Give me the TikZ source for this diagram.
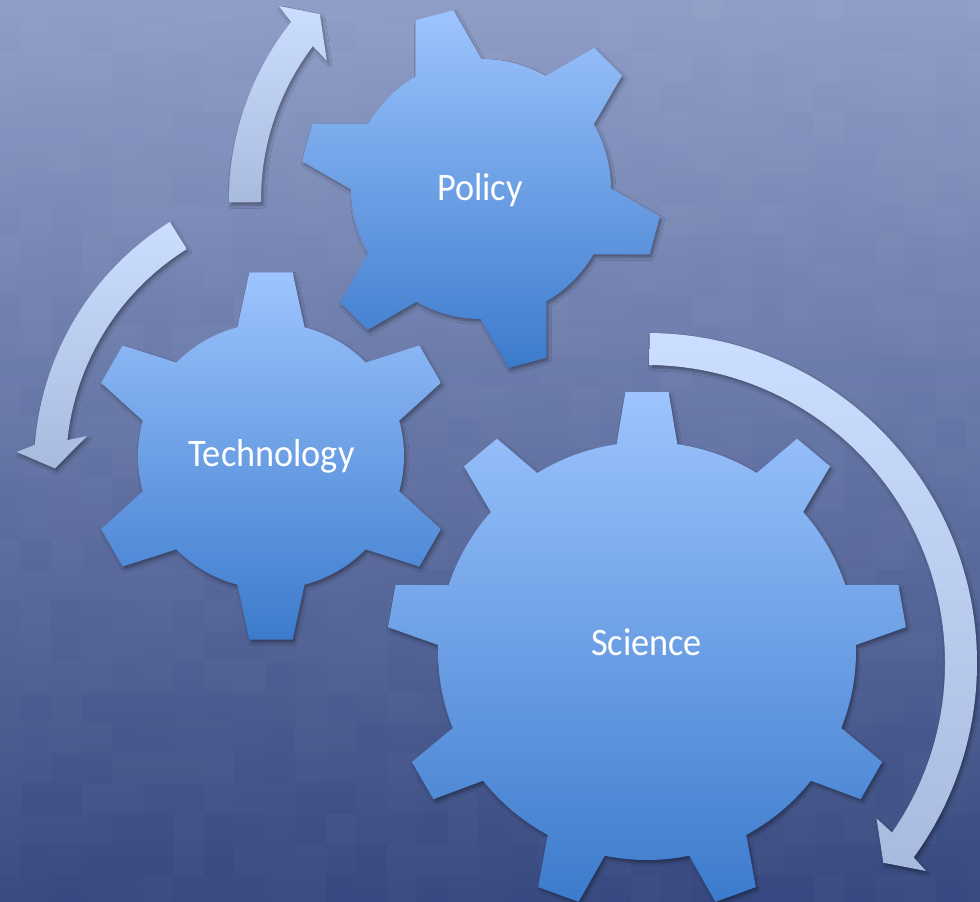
\documentclass[tikz,border=0pt]{standalone}
\usepackage{fontspec}
\newfontfamily\gearfont[FakeStretch=0.93]{Carlito}
\usetikzlibrary{shadows.blur}

\definecolor{bgtop}{HTML}{8F9DC7}
\definecolor{bgbottom}{HTML}{36487F}
\definecolor{geartop}{HTML}{9DC4FE}
\definecolor{gearbottom}{HTML}{3C7BCC}
\definecolor{arrowtop}{HTML}{CCDEFF}
\definecolor{arrowbottom}{HTML}{A8BBDE}

\begin{document}
\begin{tikzpicture}[x=1pt,y=-1pt,
    softshadow/.style={blur shadow={shadow xshift=2pt,shadow yshift=-3pt,shadow blur radius=3pt,shadow opacity=35}},
    gear/.style={top color=geartop,bottom color=gearbottom,softshadow},
    turnarrow/.style={top color=arrowtop,bottom color=arrowbottom,softshadow},
    gearlabel/.style={text=white,font=\gearfont\fontsize{39}{43}\selectfont,anchor=base}]
    \useasboundingbox (0,0) rectangle (980,902);
    \clip (0,0) rectangle (980,902);
    % background with tiles
    \shade[top color=bgtop,bottom color=bgbottom] (0,0) rectangle (980,902);
    \pgfmathsetseed{3}
    \foreach \i in {0,...,32}
        \foreach \j in {0,...,30} {
            \pgfmathsetmacro\op{0.03*rnd}
            \fill[white,fill opacity=\op] ({-10+30.5*\i},{-10+30.5*\j}) rectangle +(30.5,30.5);
        }
    % arrows
    \begin{scope}[shift={(515,200)}]
        \shade[turnarrow] (179.5:286) arc[start angle=179.5,end angle=218.5,radius=286] -- (219.4:305.5) -- (223.6:269.5) -- (216.5:234) -- (217.3:254) arc[start angle=217.3,end angle=179.5,radius=254] -- cycle;
    \end{scope}
    \begin{scope}[shift={(323,467)}]
        \shade[turnarrow] (238:289) arc[start angle=238,end angle=184.4,radius=289] -- (182.8:306.7) -- (179.7:268) -- (187.5:238) -- (186:257) arc[start angle=186,end angle=238,radius=257] -- cycle;
    \end{scope}
    \begin{scope}[shift={(647,663)}]
        \shade[turnarrow] (-89.5:330) arc[start angle=-89.5,end angle=36.1,radius=330] -- (36.7:348) -- (40.2:309.4) -- (34.1:277.3) -- (34.7:298) arc[start angle=34.7,end angle=-89.5,radius=298] -- cycle;
    \end{scope}
    % policy gear
    \begin{scope}[shift={(481,189)}]
        \shade[gear] ({-105-15.2}:130) \foreach \a in {-105,-45,...,195} {
            -- ({\a-6.2}:181) -- ({\a+6.2}:181) -- ({\a+15.2}:130)
            arc[start angle={\a+15.2},end angle={\a+60-15.2},radius=130]
        } -- cycle;
        \node[gearlabel] (policy) at (-1,11.7) {Policy};
    \end{scope}
    % technology gear
    \begin{scope}[shift={(271,456)}]
        \shade[gear] ({-90-14.6}:133) \foreach \a in {-90,-30,...,210} {
            -- ({\a-6.7}:185) -- ({\a+6.7}:185) -- ({\a+14.6}:133)
            arc[start angle={\a+14.6},end angle={\a+60-14.6},radius=133]
        } -- cycle;
        \node[gearlabel] (tech) at (0.5,10.7) {Technology};
    \end{scope}
    % science gear
    \begin{scope}[shift={(647,651)}]
        \shade[gear] ({-90-8.35}:209) \foreach \a in {-90,-50,...,230} {
            -- ({\a-4.75}:260) -- ({\a+4.75}:260) -- ({\a+8.35}:209)
            arc[start angle={\a+8.35},end angle={\a+40-8.35},radius=209]
        } -- cycle;
        \node[gearlabel] (science) at (-0.5,4.2) {Science};
    \end{scope}
\end{tikzpicture}
\end{document}
